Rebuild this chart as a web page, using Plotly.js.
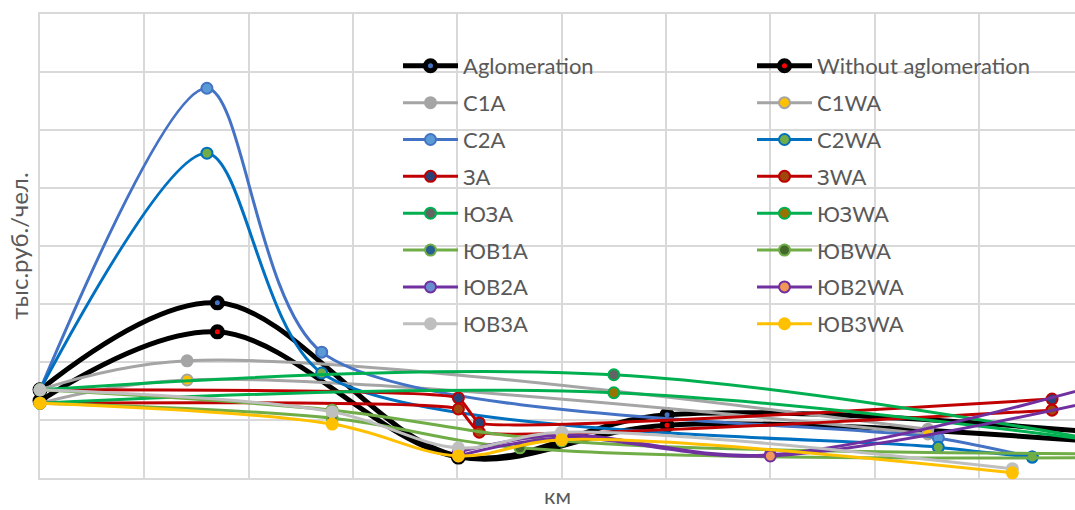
<!DOCTYPE html>
<html>
<head>
<meta charset="utf-8">
<script src="https://cdn.plot.ly/plotly-3.0.1.min.js"></script>
<style>
  html, body { margin: 0; padding: 0; background: #ffffff; }
  #chart { width: 1075px; height: 510px; }
</style>
</head>
<body>
<div id="chart"></div>
<script>
// ---- Data (x in km units of the chart grid, y in тыс.руб./чел. grid units) ----
const seriesNames = ['Aglomeration', 'Without aglomeration', 'С1А', 'С1WA', 'С2А', 'С2WA', 'ЗА', 'ЗWA',
  'ЮЗА', 'ЮЗWA', 'ЮВ1А', 'ЮВWA', 'ЮВ2А', 'ЮВ2WA', 'ЮВ3А', 'ЮВ3WA'];

const xAglomeration = [0, 17.0, 40.1, 60.1, 109.3];
const yAglomeration = [15.2, 30.2, 3.8, 10.9, 6.6];
const xWithoutAglomeration = [0, 17.0, 40.1, 60.1, 109.3];
const yWithoutAglomeration = [13.3, 25.2, 3.6, 9.1, 5.2];

const xC1A = [0, 14.1, 85.1];
const yC1A = [15.2, 20.2, 8.4];
const xC1WA = [0, 14.1, 85.1];
const yC1WA = [12.9, 16.9, 7.6];

const xC2A = [0, 16.0, 27.0, 86.1, 95.1];
const yC2A = [15.2, 67.2, 21.7, 6.9, 3.6];
const xC2WA = [0, 16.0, 27.0, 86.1, 95.1];
const yC2WA = [15.2, 56.0, 18.1, 5.3, 3.6];

const xZA = [0, 40.1, 42.1, 97.0];
const yZA = [15.2, 13.8, 9.5, 13.6];
const xZWA = [0, 40.1, 42.1, 97.0];
const yZWA = [12.9, 11.9, 7.9, 11.7];

const xYuZA = [0, 55.0, 109.3];
const yYuZA = [15.2, 17.8, 4.0];
const xYuZWA = [0, 55.0, 109.3];
const yYuZWA = [12.9, 14.7, 4.5];

const xYuV1A = [0, 28.0, 50.0, 109.3];
const yYuV1A = [15.2, 11.7, 6.4, 4.1];
const xYuVWA = [0, 28.0, 46.0, 109.3];
const yYuVWA = [12.9, 10.3, 5.2, 3.6];

const xYuV2A = [40.1, 50.0, 70.0, 109.3];
const yYuV2A = [4.5, 7.4, 4.0, 20.0];
const xYuV2WA = [40.1, 50.0, 70.0, 109.3];
const yYuV2WA = [3.8, 6.9, 3.8, 16.6];

const xYuV3A = [0, 28.0, 40.1, 50.0, 93.2];
const yYuV3A = [15.2, 11.4, 5.2, 7.9, 1.6];
const xYuV3WA = [0, 28.0, 40.1, 50.0, 93.2];
const yYuV3WA = [12.9, 9.3, 3.8, 6.6, 0.9];

const seriesX = [xAglomeration, xWithoutAglomeration, xC1A, xC1WA, xC2A, xC2WA, xZA, xZWA,
  xYuZA, xYuZWA, xYuV1A, xYuVWA, xYuV2A, xYuV2WA, xYuV3A, xYuV3WA];
const seriesY = [yAglomeration, yWithoutAglomeration, yC1A, yC1WA, yC2A, yC2WA, yZA, yZWA,
  yYuZA, yYuZWA, yYuV1A, yYuVWA, yYuV2A, yYuV2WA, yYuV3A, yYuV3WA];

const xAxisTitle = 'км';
const yAxisTitle = 'тыс.руб./чел.';

// ---- Styles ----
const lineColors = ['#000000', '#000000', '#A5A5A5', '#A5A5A5', '#4472C4', '#0070C0', '#C00000', '#C00000',
  '#00B050', '#00B050', '#70AD47', '#70AD47', '#7030A0', '#7030A0', '#BFBFBF', '#FFC000'];
const markerFills = ['#4472C4', '#FF0000', '#A5A5A5', '#FFC000', '#5B9BD5', '#70AD47', '#264478', '#9E480E',
  '#636363', '#997300', '#255E91', '#43682B', '#698ED0', '#F1975A', '#BFBFBF', '#FFC000'];
const smoothings = [1, 1, 1, 1, 0.8, 0.8, 0.35, 0.35, 1, 1, 1, 1, 1, 1, 1, 1];

const FONT = 'Lato, "Open Sans", "Noto Sans", sans-serif';
const TEXT_COLOR = '#595959';
const GRID = '#D9D9D9';

// plot area geometry (px)
const W = 1075, H = 510;
const M = { l: 40, r: 0, t: 14, b: 32 };
const plotW = W - M.l - M.r, plotH = H - M.t - M.b;

const traces = seriesNames.map((name, i) => {
  const isBlack = i < 2;
  return {
    type: 'scatter',
    mode: 'lines+markers',
    name: name,
    x: seriesX[i],
    y: seriesY[i],
    legend: i === 0 ? 'legend' : 'legend' + (i + 1),
    cliponaxis: false,
    line: { color: lineColors[i], width: isBlack ? 5 : 3, shape: 'spline', smoothing: smoothings[i] },
    marker: {
      size: isBlack ? 10 : 11,
      color: markerFills[i],
      line: { color: lineColors[i], width: isBlack ? 5 : 2 }
    },
    hoverinfo: 'skip'
  };
});

const layout = {
  width: W, height: H,
  margin: M,
  paper_bgcolor: '#ffffff',
  plot_bgcolor: '#ffffff',
  font: { family: FONT, color: TEXT_COLOR, size: 22 },
  xaxis: {
    range: [0, 99.2], dtick: 10, tick0: 0,
    showgrid: true, gridcolor: GRID, gridwidth: 2,
    showline: true, linecolor: GRID, linewidth: 2, mirror: true,
    zeroline: false, showticklabels: false, ticks: '',
    layer: 'below traces',
    title: { text: xAxisTitle, font: { family: FONT, size: 22, color: TEXT_COLOR }, standoff: 10 }
  },
  yaxis: {
    range: [0, 80], dtick: 10, tick0: 0,
    showgrid: true, gridcolor: GRID, gridwidth: 2,
    showline: true, linecolor: GRID, linewidth: 2, mirror: false,
    zeroline: false, showticklabels: false, ticks: '',
    layer: 'below traces',
    title: { text: yAxisTitle, font: { family: FONT, size: 24, color: TEXT_COLOR }, standoff: 3 }
  },
  showlegend: true
};

// one small legend per entry, laid out in two columns
const colSymbolLeft = [403, 757];
const rowCenter0 = 66, rowStep = 36.85;
seriesNames.forEach((name, i) => {
  const col = i % 2, row = Math.floor(i / 2);
  const leftPx = colSymbolLeft[col] - 5;
  const yPx = rowCenter0 + row * rowStep;
  const key = i === 0 ? 'legend' : 'legend' + (i + 1);
  layout[key] = {
    x: (leftPx - M.l) / plotW,
    y: (H - M.b - yPx) / plotH,
    xanchor: 'left', yanchor: 'middle',
    xref: 'paper', yref: 'paper',
    bgcolor: 'rgba(0,0,0,0)', borderwidth: 0,
    orientation: 'v',
    itemwidth: 55,
    font: { family: FONT, size: 22, color: TEXT_COLOR }
  };
});

Plotly.newPlot('chart', traces, layout, { displayModeBar: false, staticPlot: true });
</script>
</body>
</html>
